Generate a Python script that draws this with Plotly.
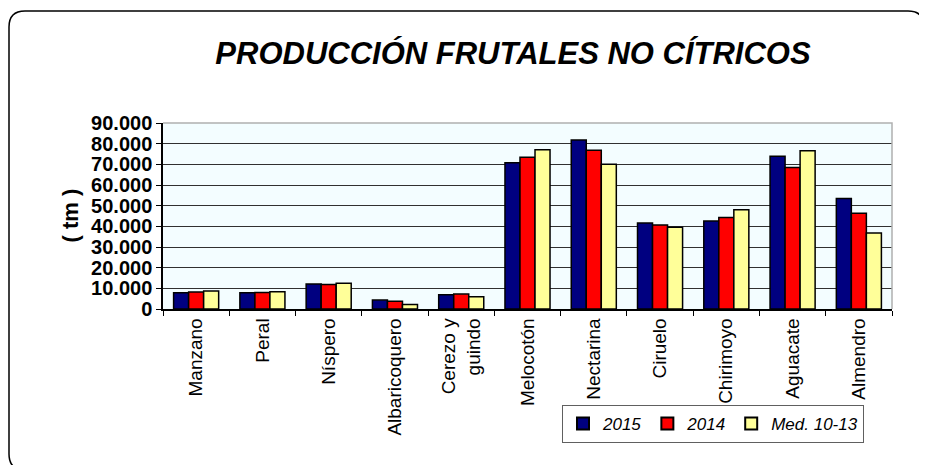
import plotly.graph_objects as go

# the page body adds an 8px offset, so the figure is drawn 8px smaller
OFF = 8
W, H = 927 - OFF, 465 - OFF

frutales = ["Manzano", "Peral", "Níspero", "Albaricoquero", "Cerezo y<br>guindo",
            "Melocotón", "Nectarina", "Ciruelo", "Chirimoyo", "Aguacate", "Almendro"]
prod_2015 = [7900, 7900, 12100, 4300, 6900, 70800, 81800, 41600, 42600, 73900, 53500]
prod_2014 = [8200, 8000, 11900, 3800, 7200, 73400, 76800, 40600, 44300, 68500, 46300]
prod_med = [8700, 8400, 12400, 2200, 5900, 77100, 70000, 39500, 48000, 76600, 36800]

series = [
    ("2015", prod_2015, "#000080"),
    ("2014", prod_2014, "#FF0000"),
    ("Med. 10-13", prod_med, "#FFFF99"),
]

# plot area in screen pixels
L, R, T, B = 163, 892, 123, 309


def px_x(x):
    return (x - L) / (R - L)


def px_y(y):
    return (B - y) / (B - T)


fig = go.Figure()
for name, vals, color in series:
    fig.add_trace(go.Bar(
        x=frutales, y=vals, name=name,
        marker=dict(color=color, line=dict(color="black", width=1.5)),
    ))

# rounded outer frame
x0, x1, y0, y1, r = 9, 924, 11, 470, 16
path = (
    f"M {px_x(x0)},{px_y(y1 - r)} "
    f"L {px_x(x0)},{px_y(y0 + r)} "
    f"Q {px_x(x0)},{px_y(y0)} {px_x(x0 + r)},{px_y(y0)} "
    f"L {px_x(x1 - r)},{px_y(y0)} "
    f"Q {px_x(x1)},{px_y(y0)} {px_x(x1)},{px_y(y0 + r)} "
    f"L {px_x(x1)},{px_y(y1 - r)} "
    f"Q {px_x(x1)},{px_y(y1)} {px_x(x1 - r)},{px_y(y1)} "
    f"L {px_x(x0 + r)},{px_y(y1)} "
    f"Q {px_x(x0)},{px_y(y1)} {px_x(x0)},{px_y(y1 - r)} Z"
)
fig.add_shape(type="path", path=path, xref="paper", yref="paper",
              line=dict(color="black", width=1.5), layer="below")

# plot area top/right border
fig.add_shape(type="path", xref="paper", yref="paper",
              path="M 0,1 L 1,1 L 1,0",
              line=dict(color="#B0B0B0", width=1.5))

fig.add_annotation(
    text="<b>( tm )</b>", textangle=-90, showarrow=False,
    xref="paper", yref="paper", x=px_x(55), y=px_y(216),
    font=dict(family="Liberation Sans, Arial", size=22, color="black"),
)

fig.update_layout(
    width=W, height=H,
    margin=dict(l=L - OFF, r=927 - R, t=T - OFF, b=465 - B),
    paper_bgcolor="white",
    plot_bgcolor="#F3FDFF",
    separators=",.",
    barmode="group",
    bargap=0.32,
    bargroupgap=0,
    title=dict(
        text="<b><i>PRODUCCIÓN FRUTALES NO CÍTRICOS</i></b>",
        xref="container", yref="container",
        x=(513 - OFF) / W, y=1 - (53 - OFF) / H, xanchor="center", yanchor="middle",
        font=dict(family="Liberation Sans, Arial", size=31, color="black"),
    ),
    font=dict(family="Liberation Sans, Arial", color="black"),
    showlegend=True,
    legend=dict(
        orientation="h",
        x=px_x(562), y=px_y(405), xanchor="left", yanchor="top",
        bgcolor="white", bordercolor="#606060", borderwidth=1,
        font=dict(size=17, style="italic", color="black"),
        itemsizing="constant",
    ),
)

fig.update_xaxes(
    tickangle=-90,
    tickfont=dict(size=19),
    showline=True, linecolor="black", linewidth=1.5,
    ticks="outside", ticklen=5, tickcolor="black",
    tickson="boundaries",
    showgrid=False,
)
fig.update_yaxes(
    range=[0, 90000], dtick=10000,
    tickformat=",d",
    tickfont=dict(size=20, weight="bold"),
    showline=True, linecolor="black", linewidth=1.5,
    ticks="outside", ticklen=5, tickcolor="black",
    showgrid=True, gridcolor="#303030", gridwidth=1,
    zeroline=False,
)

fig.write_html("out.html")
